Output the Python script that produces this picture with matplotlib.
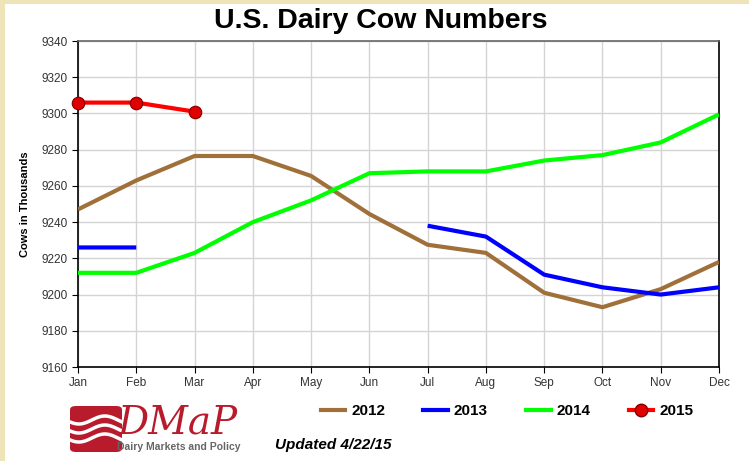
import numpy as np
import matplotlib.pyplot as plt
from matplotlib.patches import FancyBboxPatch, Rectangle
from matplotlib.lines import Line2D

plt.rcParams['font.family'] = ['Liberation Sans', 'DejaVu Sans']

months = ["Jan", "Feb", "Mar", "Apr", "May", "Jun",
          "Jul", "Aug", "Sep", "Oct", "Nov", "Dec"]

y2012 = [9247, 9263, 9276.5, 9276.5, 9265.5, 9244.5, 9227.5, 9223, 9201, 9193, 9203, 9218]
y2013 = [9226, 9226, np.nan, np.nan, np.nan, np.nan, 9238, 9232, 9211, 9204, 9200, 9204]
y2014 = [9212, 9212, 9223, 9240, 9252, 9267, 9268, 9268, 9274, 9277, 9284, 9299.5]
y2015 = [9306, 9306, 9301]

fig = plt.figure(figsize=(7.49, 4.61), dpi=100)
fig.patch.set_facecolor("#efe3b8")
# white panel
fig.patches.append(Rectangle((5/749, 0), 1, 1 - 4/461, transform=fig.transFigure,
                             facecolor="white", edgecolor="none", zorder=-5))

ax = fig.add_axes([78/749, 1 - 367/461, (719 - 78)/749, (367 - 41)/461])
ax.set_zorder(2)
x = np.arange(12)
ax.plot(x, y2012, color="#a0703a", lw=3, solid_capstyle="butt", zorder=3)
ax.plot(x, y2013, color="#0000ff", lw=3, solid_capstyle="butt", zorder=3)
ax.plot(x, y2014, color="#00ff00", lw=3, solid_capstyle="butt", zorder=3)
ax.plot(x[:len(y2015)], y2015, color="#ff0000", lw=3, marker="o", ms=9,
        mfc="#e00000", mec="#800000", mew=0.8, zorder=4, clip_on=False)

ax.set_xlim(0, 11)
ax.set_ylim(9160, 9340)
ax.set_xticks(x)
ax.set_xticklabels(months)
ax.set_yticks(np.arange(9160, 9341, 20))
ax.tick_params(labelsize=8.5, labelcolor="#333333", length=4, direction="out")
ax.grid(True, color="#d4d4d4", lw=1)
ax.set_axisbelow(True)
ax.spines["top"].set_color("#666666")
ax.spines["right"].set_color("#000000")
for s in ax.spines.values():
    s.set_linewidth(1.2)
ax.set_ylabel("Cows in Thousands", fontsize=8, fontweight="bold", labelpad=8)

fig.text(381/749, 1 - 21/461, "U.S. Dairy Cow Numbers", ha="center", va="center",
         fontsize=20.5, fontweight="bold")

handles = [
    Line2D([], [], color="#a0703a", lw=3),
    Line2D([], [], color="#0000ff", lw=3),
    Line2D([], [], color="#00ff00", lw=3),
    Line2D([], [], color="#ff0000", lw=3, marker="o", ms=9, mfc="#e00000", mec="#800000"),
]
fig.legend(handles, ["2012", "2013", "2014", "2015"], ncol=4, loc="center",
           bbox_to_anchor=(507/749, 1 - 411/461), frameon=False,
           prop={"weight": "bold", "size": 11}, handlelength=1.6, columnspacing=2.5,
           handletextpad=0.4)

fig.text(275/749, 1 - 445/461, "Updated 4/22/15", ha="left", va="center",
         fontsize=11, fontweight="bold", style="italic")

# DMaP logo
fig.patches.append(FancyBboxPatch((70/749, 1 - 452/461), 52/749, 46/461,
                                  boxstyle="round,pad=0,rounding_size=0.008",
                                  transform=fig.transFigure, facecolor="#b81c2c",
                                  edgecolor="none"))
t = np.linspace(0, 1, 40)
for off in (0.0, 9.0, 18.0):
    xs = (70 + t * 52) / 749
    ys = 1 - (420 + off + 4 * np.sin(t * 2 * np.pi + 0.5)) / 461
    fig.lines.append(Line2D(xs, ys, transform=fig.transFigure, color="white", lw=2.5))
fig.text(118/749, 1 - 423/461, "DMaP", ha="left", va="center", fontsize=28,
         color="#b81c2c", family="DejaVu Serif", style="italic")
fig.text(117/749, 1 - 447/461, "Dairy Markets and Policy", ha="left", va="center",
         fontsize=7.5, color="#666666", fontweight="bold")

fig.savefig("out.png", dpi=100)
